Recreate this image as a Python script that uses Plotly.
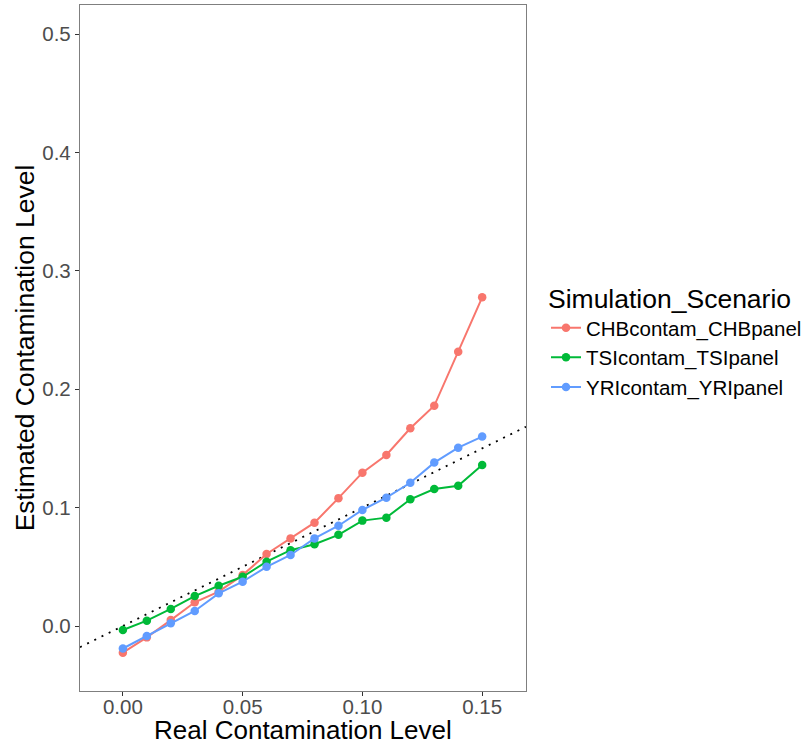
import plotly.graph_objects as go

real_level = [0.00, 0.01, 0.02, 0.03, 0.04, 0.05, 0.06, 0.07, 0.08, 0.09,
              0.10, 0.11, 0.12, 0.13, 0.14, 0.15]
chb = [-0.0225, -0.0096, 0.005, 0.020, 0.029, 0.043, 0.0608, 0.074, 0.0873, 0.108,
       0.1295, 0.1444, 0.167, 0.186, 0.2317, 0.2776]
tsi = [-0.0034, 0.0045, 0.0144, 0.0253, 0.034, 0.0416, 0.0543, 0.064, 0.069, 0.077,
       0.089, 0.0915, 0.107, 0.1157, 0.1185, 0.136]
yri = [-0.019, -0.0085, 0.0023, 0.0127, 0.0276, 0.0374, 0.050, 0.060, 0.074, 0.0847,
       0.098, 0.1084, 0.121, 0.138, 0.1506, 0.160]
series_names = ["CHBcontam_CHBpanel", "TSIcontam_TSIpanel", "YRIcontam_YRIpanel"]
series_colors = ["#F8766D", "#00BA38", "#619CFF"]
x_ticks = [0.00, 0.05, 0.10, 0.15]
x_tick_labels = ["0.00", "0.05", "0.10", "0.15"]
y_ticks = [0.0, 0.1, 0.2, 0.3, 0.4, 0.5]
y_tick_labels = ["0.0", "0.1", "0.2", "0.3", "0.4", "0.5"]
x_title = "Real Contamination Level"
y_title = "Estimated Contamination Level"
legend_title = "Simulation_Scenario"
abline_slope = 1.0
abline_intercept = 0.0

x_range = [-0.0179, 0.1683]
y_range = [-0.0549, 0.5245]

FONT = "Liberation Sans, Arial, Helvetica, sans-serif"

fig = go.Figure()

# identity reference line y = x
line_x = x_range
line_y = [abline_intercept + abline_slope * v for v in line_x]
fig.add_trace(go.Scatter(x=line_x, y=line_y, mode="lines",
                         line=dict(color="black", width=1.8, dash="2px,6px"),
                         showlegend=False, hoverinfo="skip"))

for name, vals, col in zip(series_names, [chb, tsi, yri], series_colors):
    fig.add_trace(go.Scatter(x=real_level, y=vals, mode="lines+markers", name=name,
                             line=dict(color=col, width=2),
                             marker=dict(color=col, size=8.5)))

axis_common = dict(showgrid=False, zeroline=False, showline=True, mirror=True,
                   automargin=False,
                   linecolor="#7F7F7F", linewidth=1.3, ticks="outside", ticklen=4,
                   tickwidth=1.2, tickcolor="#333333",
                   tickfont=dict(family=FONT, size=20.5, color="#4D4D4D"))

fig.update_xaxes(range=x_range, tickvals=x_ticks, ticktext=x_tick_labels,
                 ticklabelstandoff=-7, **axis_common)
fig.update_yaxes(range=y_range, tickvals=y_ticks, ticktext=y_tick_labels,
                 **axis_common)

fig.add_annotation(text=x_title, xref="paper", yref="paper", x=0.5, y=-0.0568,
                   xanchor="center", yanchor="middle", showarrow=False,
                   font=dict(family=FONT, size=26, color="black"))
fig.add_annotation(text=y_title, xref="paper", yref="paper", x=-0.1225, y=0.5,
                   xanchor="center", yanchor="middle", showarrow=False, textangle=-90,
                   font=dict(family=FONT, size=26.5, color="black"))

fig.update_layout(
    width=811, height=746,
    margin=dict(l=80, r=284, t=5, b=55),
    plot_bgcolor="white", paper_bgcolor="white",
    font=dict(family=FONT, color="black"),
    legend=dict(x=1.0425, y=0.6088, xanchor="left", yanchor="top",
                title=dict(text=legend_title, font=dict(family=FONT, size=26.5)),
                font=dict(family=FONT, size=20.5, color="black"),
                itemwidth=30, bgcolor="rgba(0,0,0,0)"),
)

fig.write_html("out.html", config={"displayModeBar": False},
               post_script="document.body.style.margin='0px';")
